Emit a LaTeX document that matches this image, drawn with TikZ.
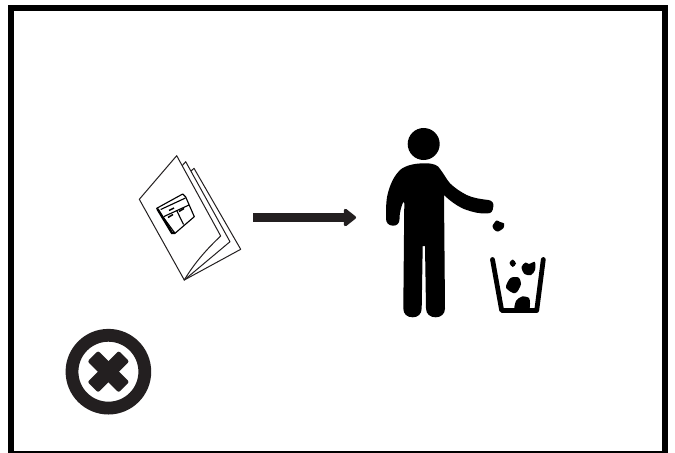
\documentclass[tikz,border=0pt]{standalone}
\usepackage{xcolor}
\usepackage{tikz}
\usetikzlibrary{arrows.meta}

\definecolor{inkdark}{HTML}{231F20}

\begin{document}
\begin{tikzpicture}[x=0.75pt, y=-0.75pt, >=stealth,
    pageline/.style={draw=inkdark, line width=0.75pt, line join=round, fill=white},
    cabinetline/.style={draw=black, line width=0.85pt, line join=round},
    debris/.style={fill=black, draw=none}]

    % =================================================================
    % 1. FRAME
    % =================================================================
    \clip (0, 0) rectangle (675, 453);
    \fill[white] (0, 0) rectangle (675, 453);
    \draw[line width=4.5pt, miter limit=10] (11, 8) rectangle (665, 454);

    % =================================================================
    % 2. BOOKLET
    % =================================================================
    \coordinate (spine) at (184.3, 280);
    \draw[pageline] (spine) -- (240.7, 249.3) -- (194, 168.3) -- (190, 172) -- cycle;
    \draw[pageline] (spine) -- (230, 241.7) -- (185.7, 161.7) -- (181, 167) -- cycle;
    \draw[pageline] (spine) .. controls (195, 262) and (208, 248) .. (220.7, 236)
        -- (176.7, 155.7) -- (139.3, 199.3) -- cycle;

    % Cabinet on the cover
    \draw[cabinetline, fill=white] (156.7, 208.3) -- (182.7, 194) -- (185.7, 197)
        -- (194.3, 216.7) -- (175, 233.3) -- cycle;
    \draw[cabinetline] (160.7, 209.5) -- (185.5, 198);
    \draw[cabinetline] (164, 216.5) -- (189, 205);
    \draw[cabinetline] (176.7, 210.5) -- (183.5, 224.5);
    \draw[line width=1.8pt] (157.5, 209) -- (172, 233) -- (175, 233);
    \draw[line width=1.1pt] (169, 210.5) -- (174, 208);
    \draw[line width=1.1pt] (168, 217.5) -- (173, 214.5);
    \draw[line width=1.1pt] (179, 211.5) -- (184, 208.5);

    % =================================================================
    % 3. ARROW
    % =================================================================
    \coordinate (arrowstart) at (253, 217.5);
    \coordinate (arrowend) at (356, 217.5);
    \draw[-{Triangle[length=10pt, width=15pt, round]}, inkdark, line width=7.4pt]
        (arrowstart) -- (arrowend);

    % =================================================================
    % 4. PERSON
    % =================================================================
    \fill (423.7, 144) circle (16);
    \fill (423.3, 163.3) .. controls (430, 163) and (435, 164) .. (438.3, 166.7)
        .. controls (444, 174) and (447, 180) .. (450, 183.3)
        .. controls (456, 189) and (461, 192) .. (466.7, 195)
        .. controls (473, 198) and (480, 199) .. (488.3, 200)
        .. controls (492, 200.5) and (494, 203) .. (493.3, 206.5)
        .. controls (493, 211) and (491, 214) .. (487.5, 213.3)
        .. controls (479, 214) and (473, 212) .. (466.7, 210)
        .. controls (459, 207.5) and (450, 201) .. (444, 195)
        -- (445, 308.3)
        .. controls (445, 314) and (441, 317.3) .. (435.7, 317.3)
        .. controls (430, 317.3) and (426, 314) .. (426, 308.3)
        -- (425, 246) -- (422.7, 246) -- (421.7, 308.3)
        .. controls (421.7, 314) and (418, 317.3) .. (412.7, 317.3)
        .. controls (407, 317.3) and (403.3, 314) .. (403.3, 308.3)
        -- (404.3, 203.3) -- (403.3, 201.7)
        .. controls (401, 207) and (399.5, 213) .. (399.5, 219)
        .. controls (399.5, 223.5) and (397, 225.7) .. (393, 225.7)
        .. controls (388.5, 225.7) and (385.8, 222.5) .. (386, 218.3)
        .. controls (386, 208) and (386, 199) .. (388.3, 191.7)
        .. controls (391, 182) and (395, 175) .. (400, 170)
        .. controls (406, 165) and (415, 163.5) .. (423.3, 163.3) -- cycle;

    % =================================================================
    % 5. BIN AND DEBRIS
    % =================================================================
    \draw[line width=3.6pt, line cap=round, line join=round]
        (492.5, 259.5) -- (501.7, 310.5) -- (536.7, 310.5) -- (543.3, 259.5);

    \fill[debris] plot[smooth cycle, tension=0.5] coordinates
        {(492.5, 226) (496.5, 220.5) (500, 222) (504, 223.5) (503.5, 228) (498, 231.5) (494.5, 230)};
    \fill[debris] plot[smooth cycle, tension=0.5] coordinates
        {(509.5, 263) (512.7, 259.5) (516, 263.5) (512.7, 267)};
    \fill[debris] plot[smooth cycle, tension=0.5] coordinates
        {(521.5, 267) (525.5, 262.5) (529, 264) (534.8, 262) (535, 270) (531, 275) (524.5, 274)};
    \fill[debris] plot[smooth cycle, tension=0.5] coordinates
        {(506, 286) (510.5, 278) (518.5, 277.5) (521, 284) (517, 292) (513, 293) (507.5, 289.5)};
    \fill[debris] plot[smooth cycle, tension=0.5] coordinates
        {(515, 311) (516, 301) (522, 296.5) (529, 298) (530, 304) (528, 311)};

    % =================================================================
    % 6. CROSS MARK
    % =================================================================
    \draw[inkdark, line width=9.6pt] (108.4, 371.7) circle (36.4);
    \node[fill=inkdark, minimum width=33pt, minimum height=11.2pt, inner sep=0pt,
        rounded corners=1.5pt, rotate=45] (crossdown) at (108.4, 371.7) {};
    \node[fill=inkdark, minimum width=33pt, minimum height=11.2pt, inner sep=0pt,
        rounded corners=1.5pt, rotate=-45] (crossup) at (108.4, 371.7) {};

\end{tikzpicture}
\end{document}
